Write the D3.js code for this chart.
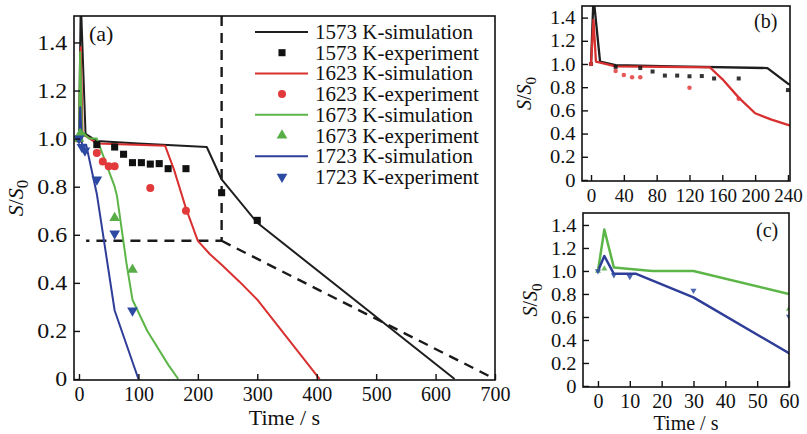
<!DOCTYPE html>
<html>
<head>
<meta charset="utf-8">
<script src="https://cdn.jsdelivr.net/npm/d3@7"></script>
<style>
  body { margin: 0; background: #fff; }
  svg text { font-family: "Liberation Serif", "Times New Roman", serif; fill: #111; }
</style>
</head>
<body>
<div id="chart"></div>
<script>
// simulation curves: time (s) and S/S0
var sim1573Time = [0, 3, 11, 30, 100, 215, 240, 300, 632];
var sim1573Val  = [1.0, 1.58, 1.02, 0.99, 0.98, 0.965, 0.83, 0.65, 0];
var sim1623Time = [0, 3, 6, 30, 145, 160, 180, 200, 220, 240, 270, 300, 405];
var sim1623Val  = [1.0, 1.38, 1.02, 0.98, 0.97, 0.87, 0.71, 0.575, 0.52, 0.475, 0.405, 0.33, 0];
var sim1673Time = [0, 2, 5, 17, 30, 60, 64, 72, 80, 90, 115, 150, 167];
var sim1673Val  = [1.0, 1.36, 1.03, 1.0, 1.0, 0.8, 0.76, 0.62, 0.48, 0.33, 0.2, 0.06, 0];
var sim1723Time = [0, 2, 5, 12, 30, 60, 100];
var sim1723Val  = [1.0, 1.13, 0.975, 0.975, 0.77, 0.285, 0];

// experiment points
var exp1573Time = [0, 30, 60, 75, 90, 105, 120, 135, 150, 180, 240, 300];
var exp1573Val  = [1.0, 0.975, 0.965, 0.935, 0.90, 0.90, 0.894, 0.896, 0.875, 0.875, 0.775, 0.66];
var exp1623Time = [0, 30, 40, 50, 60, 120, 180];
var exp1623Val  = [1.0, 0.94, 0.905, 0.885, 0.885, 0.795, 0.70];
var exp1673Time = [0, 2, 60, 90];
var exp1673Val  = [1.0, 1.02, 0.67, 0.455];
var exp1723Time = [0, 5, 10, 30, 60, 90];
var exp1723Val  = [1.0, 0.965, 0.95, 0.83, 0.605, 0.285];

// dashed guide lines in (a)
var guideTime1 = [240, 240, 12];
var guideVal1  = [1.51, 0.575, 0.575];
var guideTime2 = [240, 700];
var guideVal2  = [0.575, 0];

// ticks
var yTicks  = [0, 0.2, 0.4, 0.6, 0.8, 1.0, 1.2, 1.4];
var xTicksA = [0, 100, 200, 300, 400, 500, 600, 700];
var xTicksB = [0, 40, 80, 120, 160, 200, 240];
var xTicksC = [0, 10, 20, 30, 40, 50, 60];

var legendLabels = ["1573 K-simulation", "1573 K-experiment", "1623 K-simulation", "1623 K-experiment",
                    "1673 K-simulation", "1673 K-experiment", "1723 K-simulation", "1723 K-experiment"];

var colors = { "1573": "#1e1e1e", "1623": "#d7302f", "1673": "#5cb547", "1723": "#2e3d98" };
var markerColors = { "1573": "#111111", "1623": "#e2393a", "1673": "#58ad46", "1723": "#2d4aa3" };
var shapes = { "1573": d3.symbolSquare, "1623": d3.symbolCircle, "1673": d3.symbolTriangle, "1723": d3.symbolTriangle };

function zip(t, v) {
    return t.map(function (d, i) { return [d, v[i]]; });
}

var series = {
    "1573": { sim: zip(sim1573Time, sim1573Val), exp: zip(exp1573Time, exp1573Val) },
    "1623": { sim: zip(sim1623Time, sim1623Val), exp: zip(exp1623Time, exp1623Val) },
    "1673": { sim: zip(sim1673Time, sim1673Val), exp: zip(exp1673Time, exp1673Val) },
    "1723": { sim: zip(sim1723Time, sim1723Val), exp: zip(exp1723Time, exp1723Val) }
};

var svg = d3.select("#chart").append("svg")
    .attr("width", 807)
    .attr("height", 434);

function yFormat(d) {
    return d === 0 ? "0" : d.toFixed(1);
}

function markerPath(key, size) {
    return d3.symbol().type(shapes[key]).size(size)();
}

function drawPanel(p) {
    var x = d3.scaleLinear().domain(p.xDomain).range([p.left, p.right]);
    var y = d3.scaleLinear().domain(p.yDomain).range([p.bottom, p.top]);

    svg.append("clipPath").attr("id", "clip-" + p.name)
        .append("rect")
        .attr("x", p.left).attr("y", p.top)
        .attr("width", p.right - p.left).attr("height", p.bottom - p.top);

    var g = svg.append("g").attr("clip-path", "url(#clip-" + p.name + ")");

    var line = d3.line()
        .x(function (d) { return x(d[0]); })
        .y(function (d) { return y(d[1]); });

    // dashed guides
    if (p.guides) {
        [zip(guideTime1, guideVal1), zip(guideTime2, guideVal2)].forEach(function (gd) {
            g.append("path")
                .datum(gd)
                .attr("d", line)
                .attr("fill", "none")
                .attr("stroke", "#1a1a1a")
                .attr("stroke-width", 2.4)
                .attr("stroke-dasharray", "10,7");
        });
    }

    p.keys.forEach(function (k) {
        g.append("path")
            .datum(series[k].sim)
            .attr("d", line)
            .attr("fill", "none")
            .attr("stroke", colors[k])
            .attr("stroke-width", p.lineWidth)
            .attr("stroke-linejoin", "round");
    });

    p.keys.forEach(function (k) {
        g.selectAll(".m" + k)
            .data(series[k].exp)
            .enter().append("path")
            .attr("class", "m" + k)
            .attr("d", markerPath(k, p.markerSize))
            .attr("fill", markerColors[k])
            .attr("opacity", p.markerOpacity)
            .attr("transform", function (d) {
                return "translate(" + x(d[0]) + "," + y(d[1]) + ")" + (k === "1723" ? " rotate(180)" : "");
            });
    });

    // axes with inward ticks
    var xAxis = svg.append("g")
        .attr("transform", "translate(0," + p.bottom + ")")
        .call(d3.axisBottom(x).tickValues(p.xTicks).tickSizeInner(-6).tickSizeOuter(0).tickPadding(p.xPad));
    var yAxis = svg.append("g")
        .attr("transform", "translate(" + p.left + ",0)")
        .call(d3.axisLeft(y).tickValues(yTicks).tickFormat(yFormat).tickSizeInner(-6).tickSizeOuter(0).tickPadding(6));
    [xAxis, yAxis].forEach(function (a) {
        a.select(".domain").remove();
        a.selectAll("line").attr("stroke", "#111").attr("stroke-width", 1.4);
        a.selectAll("text").attr("fill", "#111");
    });
    xAxis.selectAll("text").attr("font-size", p.xFont);
    // y labels in the original are a bit wider than plain Times
    yAxis.selectAll("text")
        .attr("font-size", p.yFont)
        .attr("transform", "scale(" + p.yStretch + ",1)");

    // frame
    svg.append("rect")
        .attr("x", p.left).attr("y", p.top)
        .attr("width", p.right - p.left).attr("height", p.bottom - p.top)
        .attr("fill", "none")
        .attr("stroke", "#111")
        .attr("stroke-width", 1.6);

    svg.append("text")
        .attr("x", p.tagX).attr("y", p.tagY)
        .attr("font-size", p.titleFont)
        .text(p.tag);

    // y title S/S0
    var yt = svg.append("text")
        .attr("transform", "translate(" + p.yTitleX + "," + ((p.top + p.bottom) / 2) + ") rotate(-90)")
        .attr("text-anchor", "middle")
        .attr("font-size", p.titleFont);
    yt.append("tspan").attr("font-style", "italic").text("S");
    yt.append("tspan").text("/");
    yt.append("tspan").attr("font-style", "italic").text("S");
    yt.append("tspan").attr("font-size", (p.titleFont - 5)).attr("dy", "0.3em").text("0");

    if (p.xTitleY) {
        svg.append("text")
            .attr("x", (p.left + p.right) / 2)
            .attr("y", p.xTitleY)
            .attr("text-anchor", "middle")
            .attr("font-size", p.titleFont)
            .text("Time / s");
    }
    return { x: x, y: y };
}

// panel (a)
drawPanel({
    name: "a", left: 74, right: 495, top: 16, bottom: 380,
    xDomain: [-8.4, 700], yDomain: [-0.004, 1.51],
    xTicks: xTicksA, xPad: 7, xFont: 20, yFont: 21, yStretch: 1.14, titleFont: 22,
    keys: ["1573", "1623", "1673", "1723"],
    lineWidth: 2, markerSize: 50, markerOpacity: 1,
    guides: true, tag: "(a)", tagX: 89, tagY: 41,
    yTitleX: 23, xTitleY: 425
});

// panel (b)
drawPanel({
    name: "b", left: 582, right: 790, top: 6, bottom: 181,
    xDomain: [-11, 242.5], yDomain: [-0.009, 1.5],
    xTicks: xTicksB, xPad: 8, xFont: 19, yFont: 19, yStretch: 1.08, titleFont: 20,
    keys: ["1573", "1623"],
    lineWidth: 2.3, markerSize: 16, markerOpacity: 0.85,
    guides: false, tag: "(b)", tagX: 754, tagY: 28,
    yTitleX: 531, xTitleY: null
});

// panel (c)
drawPanel({
    name: "c", left: 583, right: 789, top: 213, bottom: 387,
    xDomain: [-4.7, 60], yDomain: [-0.009, 1.504],
    xTicks: xTicksC, xPad: 7, xFont: 20, yFont: 19, yStretch: 1.08, titleFont: 20,
    keys: ["1673", "1723"],
    lineWidth: 2.5, markerSize: 16, markerOpacity: 0.85,
    guides: false, tag: "(c)", tagX: 756, tagY: 237,
    yTitleX: 537, xTitleY: 430
});

// legend for (a)
var legend = svg.append("g");
legendLabels.forEach(function (label, i) {
    var key = label.slice(0, 4);
    var cy = 32 + i * 20.7;
    if (i % 2 === 0) {
        legend.append("line")
            .attr("x1", 255).attr("x2", 308)
            .attr("y1", cy).attr("y2", cy)
            .attr("stroke", colors[key])
            .attr("stroke-width", 2);
    } else {
        legend.append("path")
            .attr("d", markerPath(key, 50))
            .attr("fill", markerColors[key])
            .attr("transform", "translate(282," + cy + ")" + (key === "1723" ? " rotate(180)" : ""));
    }
    legend.append("text")
        .attr("x", 315).attr("y", cy + 7)
        .attr("font-size", 21)
        .text(label);
});
</script>
</body>
</html>
